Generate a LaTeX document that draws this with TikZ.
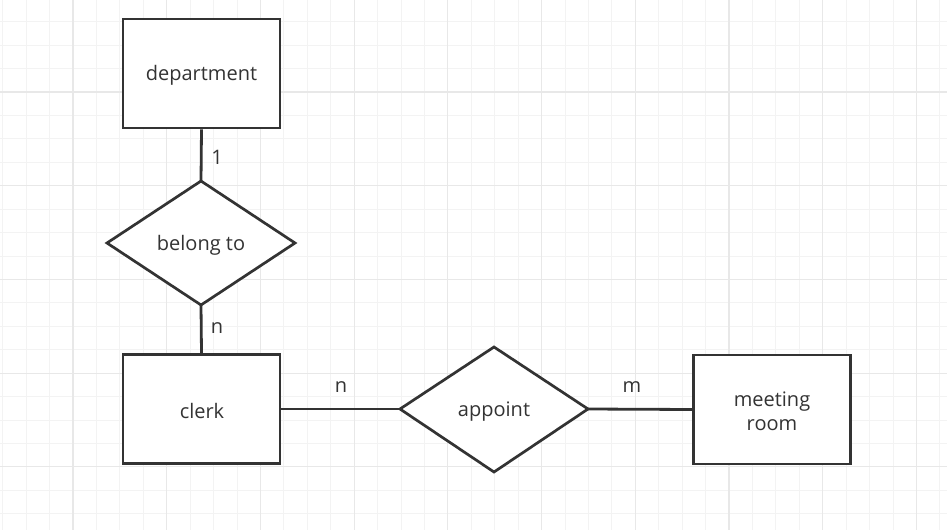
\documentclass[tikz,border=0pt]{standalone}
\usepackage{fontspec}
\setmainfont{Open Sans}
\begin{document}
\begin{tikzpicture}[x=1pt,y=-1pt,
  ent/.style={draw=ink, line width=2.8pt, fill=white, minimum width=157pt, minimum height=109pt, inner sep=0pt, align=center, font=\fontsize{20}{24}\selectfont, text=ink},
  rel/.style={draw=ink, line width=2.7pt, fill=white, line join=miter},
  lbl/.style={font=\fontsize{20}{24}\selectfont, text=ink},
  conn/.style={draw=ink, line width=2.8pt}]
\definecolor{ink}{HTML}{333333}
\definecolor{gridminor}{HTML}{F3F3F3}
\definecolor{gridmajor}{HTML}{E8E8E8}
\useasboundingbox (0,0) rectangle (947,530);
\fill[white] (0,0) rectangle (947,530);
% grid
\foreach \i in {-3,...,37} {
  \pgfmathsetmacro{\gx}{73+23.43*\i}
  \draw[gridminor, line width=1pt] (\gx,0) -- (\gx,530);
}
\foreach \i in {-4,...,19} {
  \pgfmathsetmacro{\gy}{92+23.43*\i}
  \draw[gridminor, line width=1pt] (0,\gy) -- (947,\gy);
}
\foreach \i in {0,...,9} {
  \pgfmathsetmacro{\gx}{73+93.72*\i}
  \draw[gridmajor, line width=1.2pt] (\gx,0) -- (\gx,530);
}
\foreach \i in {-1,...,4} {
  \pgfmathsetmacro{\gy}{92+93.72*\i}
  \draw[gridmajor, line width=1.2pt] (0,\gy) -- (947,\gy);
}
% entities
\node[ent] (dept) at (201.5,73.5) {};
\node[lbl] (deptlbl) at (201.5,75) {department};
\node[ent] (clerk) at (201.5,409) {};
\node[lbl] (clerklbl) at (202,411) {clerk};
\node[ent] (room) at (772,409.5) {};
\node[lbl, align=center] (roomlbl) at (772,411) {meeting\\room};
% relationships
\draw[rel] (107,243) -- (201,181) -- (295,243) -- (201,305) -- cycle;
\coordinate (bt) at (201,181);
\coordinate (bb) at (201,305);
\node[lbl] (belong) at (201,245) {belong to};
\draw[rel] (400,409) -- (494,347) -- (588,409) -- (494,472) -- cycle;
\coordinate (al) at (400,409);
\coordinate (ar) at (588,409);
\node[lbl] (appoint) at (494,412) {appoint};
% connectors
\draw[conn] (dept.south) -- (bt);
\draw[conn] (bb) -- (clerk.north);
\draw[conn] (clerk.east) -- (al);
\draw[conn] (ar) -- (room.west);
% cardinalities
\node[lbl] (c1) at (217,157) {1};
\node[lbl] (c2) at (217,328) {n};
\node[lbl] (c3) at (341,387) {n};
\node[lbl] (c4) at (632,387) {m};
\end{tikzpicture}
\end{document}
